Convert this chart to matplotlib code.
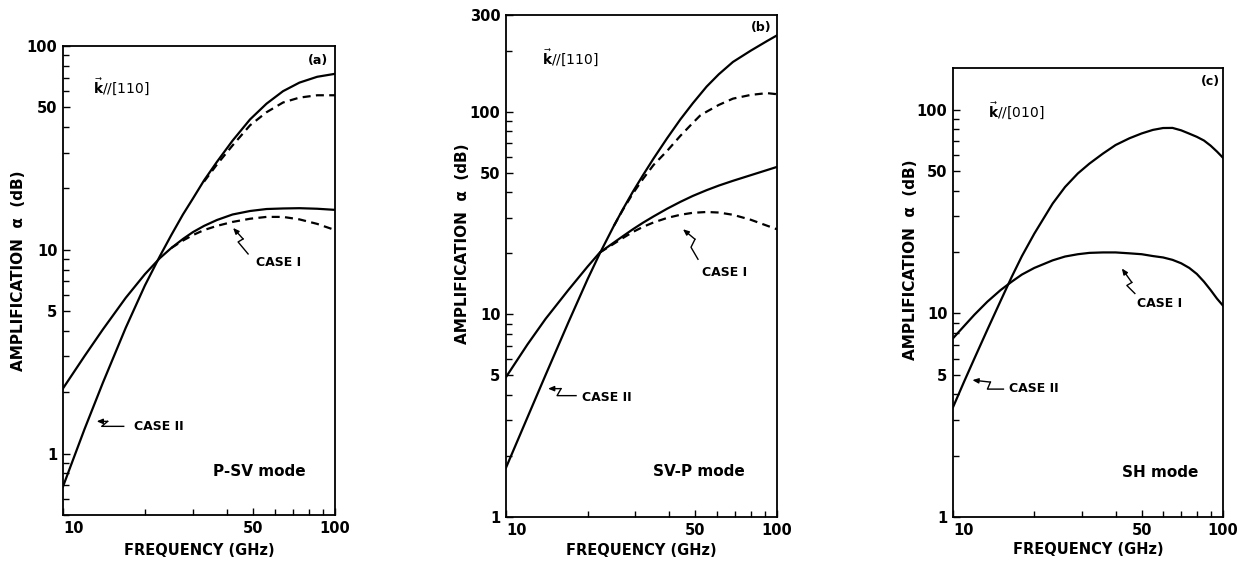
import numpy as np
import matplotlib
matplotlib.use('Agg')
import matplotlib.pyplot as plt
from matplotlib.ticker import FixedLocator, NullFormatter, LogLocator
from matplotlib.transforms import IdentityTransform

# panel (a): P-SV mode, k // [110]
freq_a = [10, 12, 14, 17, 20, 22.7, 25, 27.6, 30, 33, 36.8, 42, 48.7, 56, 64.4, 74, 86, 100]
a_case2_solid = [0.69, 1.32, 2.22, 4.14, 6.68, 9.3, 11.8, 14.9, 17.8, 21.9, 27.0, 34.3, 43.6, 52.1, 60.0, 66.1, 70.6, 73.0]
a_case1_solid = [2.09, 3.01, 4.06, 5.81, 7.59, 9.1, 10.2, 11.3, 12.2, 13.1, 14.0, 14.9, 15.5, 15.85, 15.95, 16.0, 15.9, 15.7]
freq_a_dash2 = [33, 36.8, 42, 48.7, 56, 64.4, 74, 86, 100]
a_case2_dash = [21.6, 26.2, 32.5, 40.8, 47.3, 52.8, 55.8, 57.3, 57.3]
freq_a_dash1 = [25, 27.6, 30, 33, 36.8, 42, 48.7, 56, 64.4, 74, 86, 100]
a_case1_dash = [10.2, 11.1, 11.8, 12.5, 13.1, 13.7, 14.2, 14.5, 14.5, 14.1, 13.4, 12.5]

# panel (b): SV-P mode, k // [110]
freq_b = [10, 12, 14, 17, 20, 22.2, 25, 27, 29.4, 32, 35, 39.3, 44, 48.9, 55, 61, 68.8, 80, 91.8, 100]
b_case2_solid = [1.75, 3.10, 5.02, 9.14, 14.9, 20.0, 27.3, 33.0, 40.3, 48.5, 58.6, 73.9, 91.6, 110, 133, 153, 176, 200, 223, 238]
b_case1_solid = [4.9, 7.1, 9.5, 13.2, 17.2, 20.2, 22.6, 24.3, 26.3, 28.3, 30.4, 33.2, 35.9, 38.4, 41.0, 43.2, 45.6, 48.6, 51.5, 53.4]
freq_b_dash2 = [25, 27, 29.4, 32, 35, 39.3, 44, 48.9, 52, 55, 61, 68.8, 80, 91.8, 100]
b_case2_dash = [27.3, 32.8, 39.5, 46.5, 54.5, 64, 76, 88, 95.6, 100, 108, 116, 121, 123.5, 122]
freq_b_dash1 = [22.2, 25, 27, 29.4, 32, 35, 39.3, 44, 48.9, 55, 61, 68.8, 80, 91.8, 100]
b_case1_dash = [20.2, 22.3, 23.8, 25.5, 27.0, 28.4, 29.9, 31.0, 31.7, 32.0, 31.8, 31.0, 29.3, 27.4, 26.3]

# panel (c): SH mode, k // [010]
freq_c = [10, 11, 12, 13.4, 15, 16.5, 18, 20, 23.4, 26, 29, 32, 35.9, 40, 45, 50, 55,
          60, 65, 70, 75, 80, 85, 90, 95, 100]
c_case2 = [3.46, 4.63, 6.0, 8.3, 11.5, 15.1, 19.1, 24.6, 34.6, 41.7, 48.6, 54.3, 60.8, 67.0, 72.3,
           76.4, 79.5, 81.2, 81.3, 79.1, 76.2, 73.5, 70.5, 66.5, 62.2, 58.0]
c_case1 = [7.54, 8.67, 9.84, 11.4, 13.0, 14.3, 15.5, 16.7, 18.2, 19.0, 19.5, 19.8, 19.9, 19.9, 19.7,
           19.5, 19.1, 18.8, 18.3, 17.6, 16.7, 15.6, 14.3, 13.0, 11.8, 10.9]

plt.rcParams['font.family'] = ['DejaVu Sans']
plt.rcParams['mathtext.fontset'] = 'dejavusans'
fig = plt.figure(figsize=(12.38, 5.64), dpi=100)

ax_a = fig.add_axes([0.0509, 0.0869, 0.2197, 0.8316])
ax_b = fig.add_axes([0.4087, 0.0833, 0.2189, 0.8901])
ax_c = fig.add_axes([0.7698, 0.0833, 0.2181, 0.7961])

LW = 1.6
DASH = (0, (3.6, 2.4))
FW = 'bold'


def setup(ax, ylim, ylabels):
    ax.set_xscale('log')
    ax.set_yscale('log')
    ax.set_xlim(10, 100)
    ax.set_ylim(*ylim)
    ax.xaxis.set_major_locator(FixedLocator([10, 50, 100]))
    ax.xaxis.set_minor_locator(FixedLocator([20, 30, 40, 60, 70, 80, 90]))
    ax.xaxis.set_major_formatter(plt.FixedFormatter(['10', '50', '100']))
    ax.xaxis.set_minor_formatter(NullFormatter())
    ax.yaxis.set_major_locator(FixedLocator(ylabels))
    ax.yaxis.set_major_formatter(plt.FixedFormatter([str(v) for v in ylabels]))
    ax.yaxis.set_minor_locator(LogLocator(base=10, subs=np.arange(1, 10)))
    ax.yaxis.set_minor_formatter(NullFormatter())
    ax.tick_params(which='both', direction='in', top=False, right=False,
                   width=1.0, labelsize=10.5, pad=4)
    ax.tick_params(which='major', length=5)
    ax.tick_params(which='minor', length=4)
    for lab in ax.get_xticklabels() + ax.get_yticklabels():
        lab.set_fontweight(FW)
    for s in ax.spines.values():
        s.set_linewidth(1.3)
    ax.set_xlabel('FREQUENCY (GHz)', fontsize=10.5, fontweight=FW)
    ax.set_ylabel('AMPLIFICATION  \u03b1  (dB)', fontsize=11, fontweight=FW)
    lab = ax.get_xticklabels()[0]
    lab.set_horizontalalignment('left')


setup(ax_a, (0.5, 100), [1, 5, 10, 50, 100])
setup(ax_b, (1, 300), [1, 5, 10, 50, 100, 300])
setup(ax_c, (1, 160), [1, 5, 10, 50, 100])

ax_a.plot(freq_a, a_case2_solid, 'k-', lw=LW)
ax_a.plot(freq_a, a_case1_solid, 'k-', lw=LW)
ax_a.plot(freq_a_dash2, a_case2_dash, 'k', ls=DASH, lw=LW)
ax_a.plot(freq_a_dash1, a_case1_dash, 'k', ls=DASH, lw=LW)

ax_b.plot(freq_b, b_case2_solid, 'k-', lw=LW)
ax_b.plot(freq_b, b_case1_solid, 'k-', lw=LW)
ax_b.plot(freq_b_dash2, b_case2_dash, 'k', ls=DASH, lw=LW)
ax_b.plot(freq_b_dash1, b_case1_dash, 'k', ls=DASH, lw=LW)

ax_c.plot(freq_c, c_case2, 'k-', lw=LW)
ax_c.plot(freq_c, c_case1, 'k-', lw=LW)

# label placement (axes fraction)
ax_a.yaxis.set_label_coords(-0.165, 0.52)
ax_b.yaxis.set_label_coords(-0.162, 0.544)
ax_c.yaxis.set_label_coords(-0.159, 0.572)
ax_a.xaxis.set_label_coords(0.5, -0.075)
ax_b.xaxis.set_label_coords(0.5, -0.066)
ax_c.xaxis.set_label_coords(0.5, -0.073)
for ax in (ax_a, ax_b, ax_c):
    ax.xaxis.label.set_verticalalignment('center')
    ax.yaxis.label.set_verticalalignment('center')

panels = [
    (ax_a, r'$\vec{\mathbf{k}}$//[110]', (0.11, 0.913), '(a)', (0.974, 0.970), 'P-SV mode', (0.551, 0.092)),
    (ax_b, r'$\vec{\mathbf{k}}$//[110]', (0.133, 0.916), '(b)', (0.98, 0.976), 'SV-P mode', (0.542, 0.090)),
    (ax_c, r'$\vec{\mathbf{k}}$//[010]', (0.13, 0.906), '(c)', (0.988, 0.969), 'SH mode', (0.626, 0.100)),
]
for ax, ktxt, kpos, tag, tpos, mode, mpos in panels:
    ax.text(*kpos, ktxt, transform=ax.transAxes, fontsize=10, va='center', ha='left')
    ax.text(*tpos, tag, transform=ax.transAxes, fontsize=9, fontweight=FW, va='center', ha='right')
    ax.text(*mpos, mode, transform=ax.transAxes, fontsize=11, fontweight=FW, va='center', ha='left')


def zigzag(ax, tip, path, text, toff):
    # path / toff in pixel offsets from the tip (x right, y down)
    x0, y0 = ax.transData.transform(tip)
    xs = [x0 + p[0] for p in path]
    ys = [y0 - p[1] for p in path]
    ax.plot(xs[1:], ys[1:], color='k', lw=1.0, transform=IdentityTransform(), clip_on=False)
    ax.annotate('', xy=(x0, y0), xycoords='figure pixels',
                xytext=(xs[1], ys[1]), textcoords='figure pixels',
                arrowprops=dict(arrowstyle='-|>,head_length=0.35,head_width=0.15',
                                color='k', lw=1.0, shrinkA=0, shrinkB=0))
    fig.text(x0 + toff[0], y0 - toff[1], text, transform=IdentityTransform(),
             fontsize=9, fontweight='bold', ha='left', va='center')


zigzag(ax_a, (13.3, 1.44), [(0, 0), (11, 0), (5, 5), (27, 5)], 'CASE II', (37, 5))
zigzag(ax_a, (42.2, 12.8), [(0, 0), (10, 11), (5, 14), (15, 26)], 'CASE I', (23, 35))
zigzag(ax_b, (14.3, 4.3), [(0, 0), (13, 0), (9, 7), (28, 7)], 'CASE II', (34, 9))
zigzag(ax_b, (45, 26.3), [(0, 0), (12, 10), (8, 18), (15, 30)], 'CASE I', (19, 43))
zigzag(ax_c, (11.8, 4.7), [(0, 0), (18, 2), (15, 9), (31, 9)], 'CASE II', (37, 8))
zigzag(ax_c, (42.2, 16.6), [(0, 0), (10, 14), (5, 17), (13, 25)], 'CASE I', (15, 35))

fig.savefig('out.png', dpi=100)
